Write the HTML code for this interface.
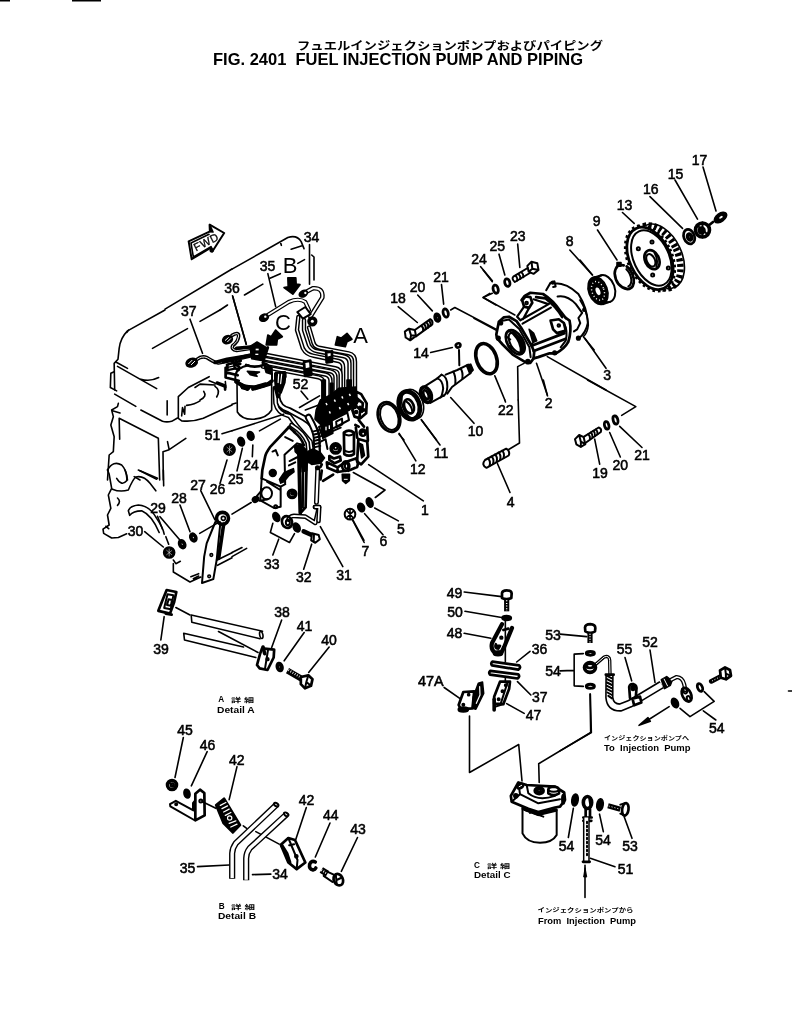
<!DOCTYPE html>
<html lang="ja"><head><meta charset="utf-8"><title>FIG. 2401 FUEL INJECTION PUMP AND PIPING</title>
<style>
html,body{margin:0;padding:0;background:#fff;}
body{width:792px;height:1021px;overflow:hidden;position:relative;font-family:"Liberation Sans","Noto Sans CJK JP",sans-serif;}
svg{position:absolute;left:0;top:0;display:block;will-change:transform;}
.d{fill:none;stroke:#000;stroke-width:1.6;stroke-linecap:round;stroke-linejoin:round}
.d *{vector-effect:non-scaling-stroke}
.d .m{stroke-width:2}
.d .k{stroke-width:2.7}
.d .kk{stroke-width:3.6}
.d .t{stroke-width:0.8}
.d .f{fill:#000}
.d .w{fill:#fff}
text{font-family:"Liberation Sans","Noto Sans CJK JP",sans-serif;fill:#000;stroke:none}
.n{font-size:14px;text-anchor:middle}
.n text{stroke:#000;stroke-width:.55px}
.L{font-size:22px;text-anchor:middle}
.s{font-size:8.2px;font-weight:bold}
.j{font-size:6px;font-weight:bold}
</style></head><body>
<svg width="792" height="1021" viewBox="0 0 792 1021">
<!-- 00_title.svg -->
<rect x="0" y="0" width="10" height="1.5" fill="#000"/>
<rect x="72" y="0" width="29" height="1.5" fill="#000"/>
<text x="297" y="50.3" font-size="11.6" font-weight="bold" textLength="306" lengthAdjust="spacingAndGlyphs">フュエルインジェクションポンプおよびパイピング</text>
<text x="213" y="64.8" font-size="16.2" font-weight="bold" textLength="370" lengthAdjust="spacingAndGlyphs" xml:space="preserve">FIG. 2401  FUEL INJECTION PUMP AND PIPING</text>
<!-- 01_labels.svg -->
<g class="n">
<text x="267.5" y="271">35</text><text x="232" y="292.5">36</text><text x="188.7" y="316">37</text><text x="212.5" y="440">51</text>
<text x="311.5" y="242">34</text><text x="300.5" y="388.7">52</text><text x="398" y="303">18</text><text x="417.5" y="292">20</text>
<text x="441" y="281.5">21</text><text x="479" y="264">24</text><text x="421" y="358">14</text><text x="475.5" y="436">10</text>
<text x="441" y="457.5">11</text><text x="417.7" y="474">12</text><text x="425" y="514.5">1</text><text x="401" y="534">5</text>
<text x="383.5" y="546">6</text><text x="365.5" y="555.5">7</text><text x="344" y="580">31</text><text x="303.7" y="582">32</text>
<text x="304.5" y="631">41</text><text x="329" y="644.5">40</text><text x="454.5" y="597.5">49</text><text x="455" y="616.5">50</text>
<text x="454.5" y="638">48</text><text x="251" y="469.5">24</text><text x="235.7" y="483.5">25</text><text x="217.5" y="494">26</text>
<text x="198" y="490">27</text><text x="179" y="502.5">28</text><text x="158" y="513">29</text><text x="135.5" y="535.7">30</text>
<text x="271.7" y="568.7">33</text><text x="161" y="653.5">39</text><text x="282" y="617">38</text>
<text x="185" y="735">45</text><text x="207.5" y="749.5">46</text><text x="236.7" y="764.5">42</text><text x="306.5" y="805">42</text>
<text x="330.7" y="820">44</text><text x="187.5" y="873">35</text><text x="280" y="878.7">34</text><text x="358" y="834.2">43</text>
<text x="553" y="639.5">53</text><text x="539.5" y="654">36</text><text x="553" y="675.7">54</text><text x="539.7" y="701.5">37</text>
<text x="533.5" y="720">47</text><text x="418" y="685.7" style="text-anchor:start" textLength="25.7" lengthAdjust="spacingAndGlyphs">47A</text><text x="624.5" y="654">55</text><text x="650" y="646.5">52</text>
<text x="716.7" y="732.5">54</text><text x="566.5" y="850.7">54</text><text x="603" y="844.5">54</text><text x="630" y="850.7">53</text>
<text x="625.5" y="873.7">51</text><text x="699.5" y="165">17</text><text x="675.5" y="179">15</text><text x="650.7" y="194">16</text>
<text x="624.5" y="210">13</text><text x="596.7" y="225.7">9</text><text x="569.7" y="245.7">8</text><text x="517.7" y="240.7">23</text>
<text x="497.2" y="250.7">25</text><text x="607.2" y="380">3</text><text x="548.7" y="408">2</text><text x="505.7" y="415">22</text>
<text x="510.7" y="506.5">4</text><text x="600" y="477.5">19</text><text x="620.2" y="469.5">20</text><text x="642" y="460">21</text>
</g>
<g class="L"><text x="290" y="273">B</text><text x="283" y="330">C</text><text x="360.5" y="342.5">A</text></g>
<!-- 10_block_a.svg -->
<g class="d" transform="translate(100,310) scale(0.166667)">
<path d="M390,0 L165,125 C140,150 120,185 115,230 L108,295 L85,320 L88,480"/>
<path d="M160,135 L172,120"/>
<path d="M315,230 L525,112 M600,68 L720,0"/>
<path d="M95,312 L165,350 M105,338 L340,472 M245,415 Q300,432 352,405"/>
<path d="M85,370 L65,380 L62,465 L100,485 M88,505 L215,578"/>
<path d="M110,560 L105,580 L70,600 L80,640 L65,690 L85,760 L80,850 L55,870 L45,1020"/>
<path d="M75,605 L120,618"/>
<path d="M245,600 L375,668 Q400,675 430,668 L465,648"/>
<path d="M403,545 L403,630"/>
<path d="M118,775 L115,650 L350,770 L358,1020"/>
<path d="M380,1020 L378,850 L415,838 L515,770 M405,790 L415,838"/>
<path d="M45,960 Q80,900 130,930 Q160,960 165,1020 M240,965 L340,1015 M205,1000 L240,1020"/>
<path d="M470,650 L470,520 L530,465 L655,400 M470,650 L490,665 Q560,672 620,650 L792,570"/>
<path d="M490,635 L495,585 L508,625 L510,578"/>
<path d="M520,572 Q570,565 600,545 M600,540 Q645,520 622,488"/>
<path d="M570,465 L600,445 L690,450 M655,425 L755,465 L752,430 M690,458 Q725,480 700,522"/>
</g>
<!-- 11_block_b.svg -->
<g class="d" transform="translate(100,470) scale(0.166667)">
<path d="M45,0 L55,25 L70,110 L50,150 L65,230 L45,270 L55,330 L18,355 L22,380 L70,408 L110,405 L160,383 M35,338 L52,352"/>
<path d="M150,0 Q165,45 160,65 Q130,100 100,50 M230,0 L345,50 M380,0 L382,95"/>
<path d="M75,115 Q120,135 170,120 Q195,60 215,42 Q260,30 300,80 L335,125"/>
<path d="M105,168 Q128,188 105,212"/>
<path d="M178,272 L170,245 Q180,215 230,210 Q300,215 340,290 Q380,350 385,385 M178,272 Q200,245 250,245 Q310,270 355,375"/>
<path d="M345,278 L375,355 M395,400 L412,445"/>
<path d="M360,280 L478,418 M480,210 L540,370 M605,125 L690,300 M268,370 L380,462"/>
<circle class="f" cx="415" cy="495" r="33"/><path d="M400,482 L430,508 M415,474 L415,516 M400,508 L430,484" style="stroke:#fff;stroke-width:.5"/>
<ellipse class="f" cx="493" cy="445" rx="20" ry="28" transform="rotate(-25 493 445)"/><ellipse class="w" cx="493" cy="445" rx="2.5" ry="5" transform="rotate(-25 493 445)" style="stroke:none"/>
<ellipse class="f" cx="560" cy="405" rx="20" ry="27" transform="rotate(-25 560 405)"/><ellipse class="w" cx="560" cy="405" rx="2.5" ry="5" transform="rotate(-25 560 405)" style="stroke:none"/>
<path d="M598,380 L720,310"/>
<circle class="kk" cx="735" cy="290" r="36"/><circle cx="740" cy="290" r="12"/>
<path class="m" d="M692,312 L640,440 L625,520 L612,678 L680,655 L700,540 L722,318"/>
<path class="kk" d="M742,325 L712,530"/>
<circle cx="668" cy="510" r="8"/><circle cx="655" cy="638" r="8"/>
<path d="M440,540 L455,562 L482,548 M440,562 L440,612 L540,672 L605,642 M545,640 L592,622 M560,652 L592,636"/>
<path d="M700,542 L792,496 M705,572 L792,527"/>
<path class="k" d="M400,720 L458,732 L445,792 L420,862 L350,845 L375,782 Z"/>
<path class="m" d="M405,745 L440,752 L425,835 L385,828 Z M412,775 L432,780 L425,815 L402,810 Z"/>
<path class="k" d="M395,862 L430,868"/>
<path d="M385,880 L365,1020 M455,825 L540,870"/>
</g>
<!-- 12_fwd.svg -->
<g class="d" transform="translate(130,215) scale(0.166667)">
<path d="M210,565 L612,324 M540,570 L585,540"/>
<path d="M360,625 L435,830 M615,485 L698,775"/>
<path class="m" d="M352,158 L480,98 L478,58 L565,108 L495,218 L488,195 L370,265 Z"/>
<path d="M366,168 L474,116 M366,168 L380,252 M380,252 L486,190"/>
<path class="f" d="M478,58 L498,102 L478,100 Z"/><circle class="f" cx="490" cy="212" r="9"/>
<path d="M400,868 Q430,843 462,856 Q500,882 530,888 L612,872 L722,846" style="stroke-width:3.6;"/><path d="M400,868 Q430,843 462,856 Q500,882 530,888 L612,872 L722,846" style="stroke:#fff;stroke-width:0.9;"/>
<path d="M612,722 Q652,698 652,726 Q650,760 616,784 Q606,808 640,813 L748,797" style="stroke-width:3.6;"/><path d="M612,722 Q652,698 652,726 Q650,760 616,784 Q606,808 640,813 L748,797" style="stroke:#fff;stroke-width:0.9;"/>
<path class="kk" d="M560,880 L730,838 M640,800 L740,790"/>
<ellipse class="f" cx="370" cy="886" rx="34" ry="25" transform="rotate(-20 370 886)"/><path d="M352,892 L372,872 M368,898 L388,878" style="stroke:#fff;stroke-width:1"/>
<ellipse class="f" cx="585" cy="748" rx="30" ry="23" transform="rotate(-20 585 748)"/><path d="M572,752 L590,736 M586,760 L604,742" style="stroke:#fff;stroke-width:1"/>
</g>
<text transform="translate(196,251.5) rotate(-27)" font-size="11" style="letter-spacing:.6px;stroke:#000;stroke-width:.3px">FWD</text>
<!-- 13_misc.svg -->
<g class="d">
<circle class="f" cx="229.5" cy="449.5" r="5.6"/><path d="M227,447.3 L232,451.7 M229.5,446 L229.5,453 M227,451.7 L232,447.3" style="stroke:#fff;stroke-width:.5"/>
<path d="M227,460 L220,483.5 M222,433.8 L232,430.8"/>
<path d="M788.5,691 L792,691"/>
</g>
<!-- 20_pipes_top.svg -->
<g class="d" transform="translate(232,230) scale(0.166667)">
<path d="M0,235 L335,45 Q390,28 415,70 L432,112 M290,70 L296,92 M355,115 L420,95 M395,200 L435,178"/>
<path d="M465,88 L465,325 M478,150 L492,162 L492,300"/>
<path d="M228,290 L290,262 M75,390 L185,325"/>
<path d="M215,262 L262,460 M5,400 L85,685"/>
<path class="f" d="M335,287 L383,287 L385,325 L408,328 L365,385 L312,345 L337,340 Z"/>
<path class="f" d="M262,600 L302,640 L272,655 L268,690 L205,690 L215,630 L235,640 Z"/>
<path class="f" d="M690,620 L720,655 L690,670 L680,700 L620,690 L632,640 L655,648 Z"/>
<path d="M425,382 L485,350 Q548,345 542,405 L470,520" style="stroke-width:4.6"/><path d="M425,382 L485,350 Q548,345 542,405 L470,520" style="stroke:#fff;stroke-width:2.0"/>
<path d="M212,512 L340,432 Q400,405 440,432 L462,480" style="stroke-width:4.2"/><path d="M212,512 L340,432 Q400,405 440,432 L462,480" style="stroke:#fff;stroke-width:1.8"/>
<ellipse class="f" cx="192" cy="526" rx="27" ry="20" transform="rotate(-25 192 526)"/><circle class="w" cx="200" cy="520" r="7" style="stroke:none"/>
<ellipse class="f" cx="428" cy="382" rx="26" ry="18" transform="rotate(-30 428 382)"/><circle class="w" cx="440" cy="378" r="7" style="stroke:none"/>
<path class="w m" d="M392,492 L440,462 L472,505 L425,532 Z"/>
<circle class="f" cx="482" cy="548" r="26"/><circle class="w" cx="482" cy="548" r="9" style="stroke:none"/>
<path d="M398,522 L390,600 L425,710 Q445,748 490,755 L640,786 Q667,792 667,825 L667,1020" style="stroke-width:4.4"/><path d="M398,522 L390,600 L425,710 Q445,748 490,755 L640,786 Q667,792 667,825 L667,1020" style="stroke:#fff;stroke-width:1.5"/>
<path d="M432,540 L432,600 L462,692 Q478,722 512,728 L665,756 Q705,762 705,800 L705,1020" style="stroke-width:4.4"/><path d="M432,540 L432,600 L462,692 Q478,722 512,728 L665,756 Q705,762 705,800 L705,1020" style="stroke:#fff;stroke-width:1.5"/>
<path d="M462,585 L490,680 Q500,705 530,708 L700,740 Q738,748 738,790 L738,1020" style="stroke-width:4.4"/><path d="M462,585 L490,680 Q500,705 530,708 L700,740 Q738,748 738,790 L738,1020" style="stroke:#fff;stroke-width:1.5"/>
<path class="w k" d="M565,735 L600,728 L600,790 L568,795 Z"/><path class="f" d="M568,765 L600,758 L600,790 L568,795 Z"/>
<path d="M200,748 L620,829 Q652,836 652,868 L652,1020" style="stroke-width:4.4"/><path d="M200,748 L620,829 Q652,836 652,868 L652,1020" style="stroke:#fff;stroke-width:1.5"/>
<path d="M195,772 L590,848 Q621,855 621,885 L621,1020" style="stroke-width:4.4"/><path d="M195,772 L590,848 Q621,855 621,885 L621,1020" style="stroke:#fff;stroke-width:1.5"/>
<path d="M190,796 L560,867 Q591,874 591,905 L591,1020" style="stroke-width:4.4"/><path d="M190,796 L560,867 Q591,874 591,905 L591,1020" style="stroke:#fff;stroke-width:1.5"/>
<path d="M185,820 L518,884 Q549,891 549,920 L549,1020" style="stroke-width:4.4"/><path d="M185,820 L518,884 Q549,891 549,920 L549,1020" style="stroke:#fff;stroke-width:1.5"/>
<path class="w k" d="M432,792 L470,784 L476,868 L438,876 Z"/><path class="f" d="M436,835 L474,827 L476,868 L438,876 Z"/>
</g>
<!-- 21_filter_pump.svg -->
<g class="d" transform="translate(232,310) scale(0.166667)">
<path class="f" d="M108,218 L150,192 L205,225 L188,305 L118,292 Z"/>
<rect class="w" x="142" y="232" width="18" height="10" style="stroke:none"/><rect class="w" x="140" y="262" width="18" height="8" style="stroke:none"/>
<path class="k" d="M200,240 L215,225 L190,300"/>
<path class="m" d="M22,395 Q20,350 100,332 M185,315 Q240,330 240,380 M20,395 L20,430 M240,380 L240,425"/>
<path class="f" d="M92,368 L165,372 L140,384 L150,398 L110,388 Z"/>
<path class="k" d="M85,330 Q135,350 190,330 M5,310 L45,345 M10,345 L40,360"/>
<path class="f" d="M195,340 L240,345 L238,385 L205,375 Z"/>
<path class="kk" d="M25,432 Q60,462 135,462 Q205,458 240,425"/>
<path class="m" d="M60,470 L95,478 M150,470 L200,455"/>
<path d="M30,440 L32,612 Q60,660 135,655 Q210,648 238,600 L238,430"/>
<path d="M0,565 L25,558"/>
<path class="w m" d="M262,375 L318,372 L322,400 L300,455 L268,455 L258,400 Z"/>
<path class="k" d="M280,385 L285,440 M300,385 L298,430"/>
<path d="M282,455 L272,520 Q278,585 345,602 L430,648 Q505,690 512,765 L515,860" style="stroke-width:6.2"/><path d="M282,455 L272,520 Q278,585 345,602 L430,648 Q505,690 512,765 L515,860" style="stroke:#fff;stroke-width:2.6"/>
<path d="M258,470 L262,560 Q275,622 345,636 L392,700 L470,790 L482,870" style="stroke-width:5.0"/><path d="M258,470 L262,560 Q275,622 345,636 L392,700 L470,790 L482,870" style="stroke:#fff;stroke-width:2.0"/>
<path class="kk" d="M262,470 L275,520"/>
<path d="M415,487 L455,535 M405,585 L525,515 M0,725 L310,625 M165,725 L290,655 M440,600 L520,570"/>
<path class="f" d="M505,600 L530,540 L600,505 L640,470 L745,462 L748,560 L705,600 L535,690 L498,655 Z"/>
<path class="f" d="M540,420 L560,420 L560,520 L540,530 Z M590,440 L606,440 L606,520 L590,520 Z M690,420 L715,420 L715,480 L690,480 Z"/>
<rect class="w" x="560" y="560" width="9" height="14" style="stroke:none" transform="rotate(-25 560 560)"/>
<rect class="w" x="610" y="540" width="9" height="14" style="stroke:none" transform="rotate(-25 610 540)"/>
<rect class="w" x="655" y="520" width="9" height="14" style="stroke:none" transform="rotate(-25 655 520)"/>
<rect class="w" x="700" y="505" width="9" height="14" style="stroke:none" transform="rotate(-25 700 505)"/>
<rect class="w" x="580" y="610" width="9" height="14" style="stroke:none" transform="rotate(-25 580 610)"/>
<rect class="w" x="640" y="585" width="9" height="14" style="stroke:none" transform="rotate(-25 640 585)"/>
<rect class="w" x="690" y="560" width="9" height="14" style="stroke:none" transform="rotate(-25 690 560)"/>
<path class="w m" d="M522,702 L692,615 L702,660 L538,748 Z"/>
<path class="m" d="M625,670 L660,652 L662,686 L628,703 Z"/>
<path class="f" d="M535,700 L600,668 L605,740 L545,770 Z"/>
<rect class="w" x="560" y="700" width="8" height="22" style="stroke:none"/><rect class="w" x="580" y="692" width="8" height="22" style="stroke:none"/>
<path class="w k" d="M745,490 L775,505 L808,560 L805,620 L770,650 L735,640 L722,600 L748,560 Z"/>
<path class="k" d="M750,530 L785,560 L780,610 M745,575 L770,600 L765,640"/>
<circle class="f" cx="745" cy="612" r="9"/><circle class="f" cx="768" cy="585" r="7"/><circle class="f" cx="790" cy="600" r="7"/><circle class="f" cx="760" cy="545" r="6"/><circle class="f" cx="738" cy="585" r="6"/>
<path class="k" d="M760,660 L792,700 M740,690 L760,700"/>
<ellipse class="f" cx="112" cy="755" rx="19" ry="27" transform="rotate(-20 112 755)"/>
<ellipse class="f" cx="55" cy="790" rx="19" ry="27" transform="rotate(-20 55 790)"/>
</g>
<!-- 22_pump_low.svg -->
<g class="d" transform="translate(232,420) scale(0.166667)">
<path class="k" d="M368,30 L342,42 L228,163 Q205,195 200,215 L182,300 L178,350"/>
<path class="m" d="M178,350 L292,400 L292,520 L252,528 L170,482 Z M292,400 L320,385 M210,370 L290,420"/>
<ellipse class="m" cx="208" cy="440" rx="32" ry="36"/><path class="m" d="M185,415 L150,455 M215,475 L165,485"/>
<ellipse class="f" cx="142" cy="476" rx="20" ry="16" transform="rotate(-30 142 476)"/>
<circle class="m" cx="262" cy="520" r="9"/>
<path d="M115,495 L0,565"/>
<path d="M497,522 L522,522 L500,618 L440,580 L372,575 Q345,578 338,598" style="stroke-width:4.6"/><path d="M497,522 L522,522 L500,618 L440,580 L372,575 Q345,578 338,598" style="stroke:#fff;stroke-width:1.6"/>
<ellipse class="k" cx="330" cy="612" rx="30" ry="36" transform="rotate(-20 330 612)"/><ellipse class="m" cx="335" cy="615" rx="12" ry="16"/>
<ellipse class="f" cx="266" cy="582" rx="19" ry="28" transform="rotate(-25 266 582)"/>
<ellipse class="f" cx="388" cy="645" rx="19" ry="28" transform="rotate(-25 388 645)"/>
<path d="M245,620 L230,675 L345,735 L375,682 M280,715 L245,810"/>
<path d="M430,668 L478,690" style="stroke-width:4.6"/><path class="w m" d="M480,680 L520,690 L527,715 L500,737 L475,722 Z"/><path class="m" d="M492,684 L490,730"/>
<path d="M478,745 L430,895 M530,640 L665,880"/>
<circle class="m" cx="708" cy="565" r="32"/><path d="M690,545 L725,585 M708,535 L708,595 M688,585 L728,548"/>
<ellipse class="f" cx="775" cy="525" rx="19" ry="26" transform="rotate(-25 775 525)"/>
<path d="M725,600 L792,722"/>
<path d="M0,795 L60,765 M0,820 L88,770"/>
<path d="M125,150 L122,220 M62,170 L30,305"/>
</g>
<g class="d" transform="translate(270,420) scale(0.126263)">
<path class="m" d="M115,275 L215,185 L270,200 M115,275 L120,500 M155,325 L215,295 M150,360 L200,335 M120,135 L180,165 M20,250 L45,238 L62,280"/>
<circle class="f" cx="22" cy="420" r="27"/>
<path class="f" d="M75,470 L110,420 L150,400 L185,385 L190,410 L150,440 L110,490 L85,500 Z"/>
<circle cx="175" cy="585" r="30" style="stroke-width:3.4"/><circle class="f" cx="178" cy="580" r="13"/>
<path class="f" d="M195,205 L245,195 L300,250 L300,340 L250,345 L240,290 L200,250 Z"/>
<path d="M228,215 L240,735" style="stroke-width:3.8"/>
<path class="k" d="M262,350 L258,690 M290,350 L282,690 M240,738 L282,692"/>
<path class="f" d="M250,345 L292,340 L290,400 L255,410 Z"/>
<path d="M305,-20 Q362,80 368,140 L372,255" style="stroke-width:7.4"/><path d="M305,-20 Q362,80 368,140 L372,255" style="stroke:#fff;stroke-width:3.4"/>
<path class="m" d="M345,90 L385,80 M350,115 L390,105 M352,140 L392,130 M354,165 L394,155 M356,190 L396,180 M358,215 L398,205"/>
<path d="M170,40 Q265,100 298,180 L306,260" style="stroke-width:4.8"/><path d="M170,40 Q265,100 298,180 L306,260" style="stroke:#fff;stroke-width:1.6"/>
<path class="k" d="M190,95 Q250,140 268,200 M150,55 L200,100"/>
<path class="f" d="M300,250 L340,230 L400,260 L432,300 L400,342 L330,352 L290,322 Z"/>
<path d="M378,392 L368,652" style="stroke-width:5"/><path d="M378,392 L368,652" style="stroke:#fff;stroke-width:2.2"/>
<circle class="f" cx="376" cy="378" r="14"/><path class="k" d="M400,372 L410,352 M410,400 L400,470"/>
<path d="M358,690 L390,690 L384,800" style="stroke-width:4.6"/><path d="M358,690 L390,690 L384,800" style="stroke:#fff;stroke-width:1.6"/>
<path class="m" d="M400,130 L560,60 M405,170 L440,152 M440,152 L455,230"/>
<circle cx="520" cy="225" r="35" style="stroke-width:3.8"/><circle class="m" cx="520" cy="220" r="14"/>
<path class="k" d="M470,285 L505,305 L555,290 L560,320 L510,342 L470,315 Z"/>
<path class="w k" d="M585,100 L588,270 Q625,296 665,270 L665,100 Q625,68 585,100 Z"/><path class="m" d="M585,108 Q625,138 665,108 M588,240 Q625,266 665,240"/>
<path class="k" d="M450,335 L535,375 L595,335 M535,375 L535,412 L455,378 L450,335 M535,412 L600,402"/>
<ellipse class="k" cx="600" cy="365" rx="28" ry="38"/><ellipse class="m" cx="606" cy="365" rx="13" ry="20"/>
<path class="k" d="M610,328 L680,305 M620,402 L690,372 M680,305 Q705,335 690,372"/>
<path class="f" d="M572,430 L630,430 L628,480 L600,502 L575,480 Z"/><path d="M588,470 L612,470" style="stroke:#fff;stroke-width:1"/>
<circle class="f" cx="735" cy="100" r="28"/><circle class="w" cx="738" cy="108" r="7" style="stroke:none"/>
<path class="k" d="M700,150 L770,170 L778,290 L722,352 L690,330 Z"/><path class="f" d="M708,185 L732,195 L748,280 L726,300 Z"/>
<path class="k" d="M680,60 L690,140 M770,60 L775,165"/>
<path class="k" d="M420,482 L500,432"/>
</g>
<!-- 23_filter_extra.svg -->
<g class="d" transform="translate(215,330) scale(0.10101)">
<path class="kk" d="M0,322 L120,290 L330,255"/>
<path class="k" d="M105,375 L105,470 L235,502 M110,420 L225,448 M105,375 L250,335 M120,345 L255,305"/>
<path class="f" d="M115,345 L190,325 L195,385 L120,400 Z"/>
<path d="M140,355 L175,347 M140,378 L178,370" style="stroke:#fff;stroke-width:1"/>
<path class="kk" d="M215,515 L330,578 M375,585 L545,535"/>
<path class="k" d="M260,560 L320,590 M400,560 L500,530"/>
<path class="f" d="M592,432 L700,425 L692,520 L655,622 L602,600 L592,500 Z"/>
<path d="M630,440 L625,520 M660,440 L650,530" style="stroke:#fff;stroke-width:1.2"/>
<path class="k" d="M20,520 L100,550 L100,590"/>
</g>
<!-- 30_shaft.svg -->
<g class="d" transform="translate(364,270) scale(0.166667)">
<path d="M465,88 L478,205 M322,150 L410,245 M205,220 L320,315 M400,495 L530,465 M520,765 L660,920 M345,900 L435,1020 M210,985 L240,1020"/>
<ellipse class="k" style="stroke-width:2.8" cx="490" cy="258" rx="15" ry="25" transform="rotate(-15 490 258)"/>
<ellipse class="k" style="stroke-width:2.8" cx="440" cy="286" rx="15" ry="23" transform="rotate(-15 440 286)"/><ellipse class="m" cx="440" cy="286" rx="7" ry="12" transform="rotate(-15 440 286)"/>
<path class="m" d="M245,370 L270,352 L305,360 L312,395 L277,422 L250,405 Z M270,352 L282,392 L277,422 M282,392 L312,395"/>
<path class="m" d="M305,360 L398,295 Q415,305 410,326 L312,398"/>
<path class="m" d="M345,335 Q358,345 355,365 M360,325 Q373,335 370,355 M375,315 Q388,325 385,345 M390,305 Q402,315 399,335"/>
<path d="M520,240 L545,225 L792,355"/>
<path d="M715,0 L770,70 M770,140 L715,165 L792,210"/>
<ellipse class="k" cx="565" cy="452" rx="14" ry="12" transform="rotate(-30 565 452)"/><path class="m" d="M570,480 L572,572"/>
<ellipse class="kk" cx="372" cy="748" rx="30" ry="48" transform="rotate(-22 372 748)"/><ellipse class="k" cx="372" cy="748" rx="14" ry="28" transform="rotate(-22 372 748)"/>
<path class="m" d="M352,706 L440,650 L465,628 M398,797 L480,752"/>
<path class="m" d="M465,628 Q502,640 500,700 Q498,740 478,755 M440,650 Q472,660 475,710 Q470,750 460,765"/>
<path class="m" d="M490,628 L560,600 L625,568 M500,742 L528,702 L640,618"/>
<path class="m" d="M535,610 Q552,635 548,684 M580,592 Q595,612 590,652"/>
<path class="f" d="M615,572 L640,565 L655,600 L635,622 Z"/>
<ellipse cx="292" cy="805" rx="62" ry="92" transform="rotate(-20 292 805)"/>
<ellipse cx="272" cy="812" rx="60" ry="86" transform="rotate(-20 272 812)" style="stroke-width:4.6"/>
<ellipse class="k" cx="270" cy="818" rx="28" ry="44" transform="rotate(-20 270 818)"/>
<path class="m" d="M255,790 Q285,810 290,850"/>
<ellipse class="k" cx="150" cy="882" rx="64" ry="92" transform="rotate(-20 150 882)"/>
<ellipse class="m" cx="152" cy="882" rx="52" ry="80" transform="rotate(-20 152 882)"/>
</g>
<!-- 31_housing.svg -->
<g class="d" transform="translate(474,230) scale(0.166667)">
<path d="M262,85 L275,225 M150,145 L185,270 M40,220 L110,305 M575,120 L710,270"/>
<ellipse class="k" style="stroke-width:2.8" cx="130" cy="355" rx="15" ry="25" transform="rotate(-15 130 355)"/>
<ellipse class="k" style="stroke-width:2.8" cx="200" cy="316" rx="15" ry="23" transform="rotate(-15 200 316)"/>
<path d="M95,380 L55,405 L245,510 M0,530 L140,605"/>
<path class="m" d="M320,215 L345,190 L380,200 L387,240 L357,263 L328,250 Z M345,190 L350,232 L328,250 M350,232 L387,240"/>
<path class="m" d="M322,228 L238,278 Q222,292 245,312 L335,258"/>
<path class="m" d="M250,275 Q262,285 260,303 M268,265 Q280,275 278,293 M286,255 Q298,265 296,283"/>
<!-- o-ring 22 -->
<ellipse class="kk" cx="75" cy="772" rx="60" ry="94" transform="rotate(-20 75 772)"/>
<path d="M125,875 L185,1020 M300,800 L262,820 L265,1020 M375,800 L440,990 M440,760 L792,960 M665,650 L792,830"/>
</g>
<!-- 31b_housing_body.svg -->
<g class="d" transform="translate(490,270) scale(0.126263)">
<!-- front flange -->
<path class="w k" d="M70,410 L110,375 L150,370 L210,405 L245,455 L330,600 L350,650 L345,700 L320,735 L280,730 L180,670 L100,590 L55,540 L50,510 Z"/>
<path class="m" d="M100,402 L150,392 L232,468 L312,612 L322,690"/>
<ellipse class="k" cx="200" cy="572" rx="62" ry="105" transform="rotate(-30 200 572)"/>
<ellipse class="m" cx="205" cy="575" rx="44" ry="86" transform="rotate(-30 205 575)"/>
<path d="M185,498 Q258,572 250,655" style="stroke-width:3.8"/>
<path class="m" d="M150,480 L175,500 M135,530 L160,550 M150,600 L175,620"/>
<circle class="f" cx="85" cy="420" r="14"/><circle class="f" cx="66" cy="540" r="14"/><circle class="f" cx="300" cy="726" r="16"/><circle class="f" cx="332" cy="592" r="10"/>
<!-- body -->
<path class="k" d="M250,238 L275,205 L320,180 L420,190 Q500,240 560,330 L600,380"/>
<path class="w k" d="M255,240 L280,210 L320,215 L335,260 L310,300 L270,290 Z"/><circle class="m" cx="290" cy="262" r="10"/>
<path class="k" d="M365,215 L440,225 Q520,285 572,372"/>
<path class="m" style="stroke-width:2.2" d="M270,290 L215,370 M310,300 L262,388 M240,398 L468,268 M258,425 L482,298 M345,232 L400,250 L455,268 M215,370 L240,398"/>
<path class="k" d="M330,600 L590,500 M346,642 L600,545 M345,700 L382,690 L472,660 L522,660"/>
<path class="w k" d="M480,400 L545,390 L585,420 L600,480 L530,500 L500,470 Z"/><circle class="m" cx="545" cy="440" r="10"/>
<path class="k" d="M600,380 L630,400 Q648,480 620,570 Q590,625 520,662"/>
<path class="m" d="M585,420 Q618,480 600,560 L560,612"/>
<circle class="f" cx="512" cy="656" r="14"/><path class="f" d="M310,470 L345,500 L370,560 L340,575 Z"/>
<!-- gasket 3 -->
<path class="m" d="M445,160 L480,100 L510,90 L520,130 L500,135 M520,105 Q610,105 700,190 Q770,300 775,420 Q760,500 700,545"/>
<path class="m" d="M535,210 Q610,195 680,270 L730,340 L700,380 L715,420 L690,470 L665,486"/>
<circle class="f" cx="497" cy="100" r="10"/><circle class="f" cx="745" cy="316" r="10"/><circle class="f" cx="700" cy="540" r="14"/>
</g>
<!-- 32_gear.svg -->
<g class="d" transform="translate(580,180) scale(0.166667)">
<path d="M420,100 L615,290 M255,195 L325,260 M105,300 L222,480 M570,0 L705,235 M0,480 L75,570"/>
<path d="M0,720 Q45,790 50,870 Q45,920 20,940 L85,1020"/>
<!-- gear -->
<ellipse cx="482" cy="458" rx="128" ry="205" transform="rotate(-25 482 458)" style="stroke-width:1.6"/>
<ellipse cx="462" cy="462" rx="124" ry="201" transform="rotate(-25 462 462)" style="stroke-width:6.5;stroke-dasharray:3 2.4;stroke-linecap:butt"/>
<ellipse class="w" cx="420" cy="470" rx="130" ry="206" transform="rotate(-25 420 470)" style="stroke-width:3.4;stroke-dasharray:2.6 2.8;stroke-linecap:butt"/>
<ellipse cx="420" cy="470" rx="122" ry="198" transform="rotate(-25 420 470)" style="stroke-width:2.8"/>
<ellipse class="w m" cx="428" cy="468" rx="106" ry="176" transform="rotate(-25 428 468)"/>
<ellipse class="k" cx="432" cy="478" rx="42" ry="60" transform="rotate(-25 432 478)"/>
<ellipse class="m" cx="425" cy="482" rx="24" ry="40" transform="rotate(-25 425 482)"/>
<path class="m" d="M448,440 Q470,470 458,520"/>
<circle class="m" cx="432" cy="372" r="9"/><circle class="m" cx="350" cy="412" r="9"/><circle class="m" cx="530" cy="528" r="9"/><circle class="m" cx="436" cy="570" r="9"/>
<!-- snap ring 9 -->
<path class="k" d="M262,512 Q215,500 208,560 Q215,640 285,655 Q330,650 322,590 Q310,540 280,518"/>
<path class="m" d="M278,535 Q305,560 308,600 Q308,630 290,638"/>
<rect class="f" x="222" y="495" width="24" height="22"/>
<!-- bearing 8 -->
<ellipse class="m" cx="152" cy="652" rx="56" ry="84" transform="rotate(-20 152 652)"/>
<path class="m" d="M85,585 L130,572 M140,745 L182,730"/>
<ellipse class="f" cx="108" cy="664" rx="56" ry="86" transform="rotate(-20 108 664)"/>
<ellipse class="w" cx="108" cy="668" rx="13" ry="24" transform="rotate(-20 108 668)" style="stroke:none"/>
<ellipse cx="108" cy="665" rx="36" ry="58" transform="rotate(-20 108 665)" style="stroke:#fff;stroke-width:1.4;stroke-dasharray:1 2.4;stroke-linecap:butt"/>
<!-- 16, 15, 17 -->
<ellipse class="k" cx="655" cy="340" rx="32" ry="45" transform="rotate(-20 655 340)"/><ellipse class="kk" cx="658" cy="342" rx="12" ry="18" transform="rotate(-20 658 342)"/>
<circle class="kk" cx="735" cy="300" r="42"/><circle class="f" cx="730" cy="303" r="20"/><path class="m" d="M700,270 L770,330 M735,255 L735,345"/>
</g>
<g class="d">
<ellipse class="f" cx="720.5" cy="217.5" rx="7" ry="4" transform="rotate(-35 720.5 217.5)"/><ellipse class="w" cx="721" cy="217.3" rx="2" ry="1" transform="rotate(-35 721 217.3)" style="stroke:none"/>
<path class="k" d="M708,226 L713,222"/>
<path d="M703,167 L716,211"/>
</g>
<!-- 33_bolts19.svg -->
<g class="d" transform="translate(540,380) scale(0.166667)">
<path d="M285,0 L575,160 L490,212 M328,355 L358,505 M418,315 L482,462 M478,278 L612,405 M20,0 L45,95"/>
<ellipse class="k" style="stroke-width:2.8" cx="453" cy="240" rx="14" ry="25" transform="rotate(-15 453 240)"/>
<ellipse class="k" style="stroke-width:2.8" cx="400" cy="272" rx="13" ry="23" transform="rotate(-15 400 272)"/>
<path class="m" d="M210,355 L235,330 L262,343 L272,385 L245,402 L218,386 Z M235,330 L245,370 L245,402 M245,370 L272,385"/>
<path class="m" d="M262,341 L352,285 Q372,292 365,312 L272,378"/>
<path class="m" d="M290,325 Q302,335 300,355 M305,315 Q317,325 315,345 M320,305 Q332,315 330,335 M335,297 Q347,307 345,325"/>
</g>
<g class="d">
<path d="M518.2,400 L519.5,443 L508.7,449.5 M497.5,463.7 L510,492.5 M504.8,400 L505.5,402"/>
<path class="m" d="M485,460 L506.2,448.7 Q510.5,451 508.7,455.5 L486.5,467.8 Q481,465 485,460 Z"/>
<path class="m" d="M488,458.5 Q491,461 489.5,466 M491.5,456.5 Q494.5,459 493,464 M495,454.5 Q498,457 496.5,462 M498.5,452.5 Q501.5,455 500,460 M502,450.7 Q505,453 503.5,458"/>
</g>
<!-- 34_pump_right.svg -->
<g class="d" transform="translate(330,400) scale(0.166667)">
<path d="M415,200 L515,365 M548,118 L660,270 M232,388 L560,605 M140,435 L330,540 L272,585 M268,648 L410,725 M208,682 L318,808 M135,720 L205,855"/>
<ellipse class="f" cx="238" cy="615" rx="19" ry="29" transform="rotate(-20 238 615)"/>
</g>
<!-- 40_detail_a.svg -->
<g class="d">
<path d="M262.5,631.2 L191.2,615 L191.8,622.3 L260,638.7"/>
<ellipse cx="261.3" cy="635" rx="1.6" ry="3.6" transform="rotate(-12 261.3 635)"/>
<path d="M243.5,647 L183.7,633.2 L184.5,640 L255.8,657.5"/>
<path d="M218.5,631.5 L258,652.5"/>
</g>
<g class="d" transform="translate(210,570) scale(0.166667)">
<path class="k" d="M312,470 L385,478 L382,525 L345,600 L298,590 L282,570 L300,505 Z"/>
<path class="m" d="M348,480 L330,592"/><circle class="m" cx="345" cy="535" r="7"/>
<path class="kk" d="M318,462 L328,502"/>
<ellipse class="k" style="stroke-width:2.8" cx="418" cy="582" rx="16" ry="24" transform="rotate(-15 418 582)"/><ellipse class="m" cx="418" cy="582" rx="7" ry="12" transform="rotate(-15 418 582)"/>
<path d="M465,604 L548,652" style="stroke-width:6.2;stroke-linecap:butt"/><path d="M470,600 L545,645" style="stroke:#fff;stroke-width:2.2;stroke-dasharray:.8 1.7;stroke-linecap:butt"/>
<path class="w k" d="M545,642 L590,632 L615,655 L606,695 L570,710 L545,685 Z"/><path class="m" d="M590,632 L578,672 L570,710 M578,672 L606,695"/>
<path d="M430,300 L370,465 M565,375 L445,545 M715,462 L592,615"/>
</g>
<text class="s" x="218.3" y="701.7" font-size="8">A</text><text class="j" x="231" y="701.7" font-size="6.5" textLength="23" lengthAdjust="spacingAndGlyphs">詳 細</text>
<text class="s" x="217" y="712.5" textLength="37.7" lengthAdjust="spacingAndGlyphs">Detail A</text>
<!-- 41_detail_b.svg -->
<g class="d" transform="translate(160,750) scale(0.166667)">
<path d="M140,-75 L90,165 M283,10 L188,215 M462,100 L415,298 M225,700 L415,690 M555,748 L665,745 M575,490 L715,565 M255,310 L335,350 M500,455 L520,470"/>
<circle class="kk" cx="72" cy="210" r="27"/><circle class="m" cx="74" cy="210" r="10"/><path class="m" d="M55,195 L90,225"/>
<ellipse class="k" style="stroke-width:2.8" cx="162" cy="262" rx="14" ry="23" transform="rotate(-15 162 262)"/><ellipse class="m" cx="162" cy="262" rx="6" ry="11" transform="rotate(-15 162 262)"/>
<path class="k" d="M212,262 L240,238 L266,258 L268,392 L212,422 Z"/><path class="m" d="M60,325 L95,305 L200,362 M60,325 L62,338 L205,420 M198,318 L198,362 M198,318 L212,300"/>
<circle class="m" cx="245" cy="306" r="9"/><circle class="m" cx="97" cy="325" r="6"/>
<path class="f" d="M335,330 L385,290 L482,450 L437,497 L380,440 Z" style="stroke-width:2"/>
<path d="M362,332 L395,315 M372,352 L405,335 M382,372 L415,355 M392,392 L425,375 M415,440 L455,425 M425,462 L462,445" style="stroke:#fff;stroke-width:1.3"/>
<circle cx="418" cy="408" r="13" style="stroke:#fff;stroke-width:1.2"/>
<path d="M697,330 L455,560 Q434,590 433,620 L433,772" style="stroke-width:6.2;stroke-linecap:butt"/><path d="M699,328 L455,560 Q434,590 433,620 L433,768" style="stroke:#fff;stroke-width:3.4;stroke-linecap:butt"/>
<path d="M757,388 L538,590 Q518,615 517,650 L517,782" style="stroke-width:6.2;stroke-linecap:butt"/><path d="M759,386 L538,590 Q518,615 517,650 L517,778" style="stroke:#fff;stroke-width:3.4;stroke-linecap:butt"/>
<ellipse class="m" cx="697" cy="328" rx="15" ry="9" transform="rotate(35 697 328)"/><ellipse class="m" cx="757" cy="386" rx="15" ry="9" transform="rotate(35 757 386)"/>
</g>
<g class="d" transform="translate(270,780) scale(0.166667)">
<path d="M218,165 L155,355 M360,258 L272,462 M525,345 L428,548"/>
<path class="k" d="M65,388 L110,348 L150,360 L212,495 L160,535 L110,495 Z"/><path class="kk" d="M70,392 L100,440 L118,495"/><path class="m" d="M115,392 L145,385 M110,348 L165,480 L160,535"/><circle class="m" cx="158" cy="458" r="8"/>
<path class="kk" d="M272,492 Q250,480 238,505 Q232,535 258,540 Q270,538 275,528"/>
<path d="M308,540 L345,563" style="stroke-width:6.4;stroke-linecap:butt"/><path d="M308,540 L345,563" style="stroke:#fff;stroke-width:2.4;stroke-dasharray:.8 1.6;stroke-linecap:butt"/><path class="m" d="M340,548 L392,572 M322,575 L375,612"/>
<ellipse class="w k" cx="410" cy="598" rx="27" ry="36" transform="rotate(-25 410 598)"/><path class="m" d="M395,570 L400,625 M400,600 L432,585"/>
</g>
<text class="s" x="218.7" y="908.7" font-size="8">B</text><text class="j" x="231" y="908.7" font-size="6.5" textLength="24" lengthAdjust="spacingAndGlyphs">詳 細</text>
<text class="s" x="218" y="919" textLength="38" lengthAdjust="spacingAndGlyphs">Detail B</text>
<!-- 50_detail_c_top.svg -->
<g class="d" transform="translate(430,580) scale(0.166667)">
<path d="M205,72 L430,100 M210,188 L430,225 M205,320 L365,350 M600,428 L520,492 M605,690 L525,610 M565,800 L460,742 M85,645 L185,715"/>
<path d="M452,245 L452,490 M452,590 L452,612"/>
<path class="w k" d="M432,78 Q435,62 460,62 Q488,62 490,80 L488,108 Q460,122 432,108 Z"/>
<path d="M460,118 L460,188" style="stroke-width:5.2;stroke-linecap:butt"/><path d="M460,122 L460,186" style="stroke:#fff;stroke-width:1.4;stroke-dasharray:1 1.6;stroke-linecap:butt"/>
<ellipse class="kk" cx="460" cy="228" rx="22" ry="8"/>
<path d="M432,265 L372,378 Q362,420 395,440 L430,432 L445,402 L492,288" style="stroke-width:4.2"/>
<path class="k" d="M440,300 L470,292 M395,385 Q385,410 410,412 L420,395 L405,395"/><circle class="m" cx="428" cy="346" r="7"/>
<ellipse class="k" cx="408" cy="440" rx="24" ry="11"/>
<path class="k" d="M375,490 L535,512 Q548,525 530,538 L372,512 Q362,500 375,490 Z"/>
<path class="k" d="M362,545 L530,566 Q542,580 525,591 L360,568 Q350,556 362,545 Z"/>
<path class="k" d="M420,610 L480,610 L475,652 L440,745 L385,742 L385,700 Z"/><path class="kk" d="M385,715 L385,780"/><path class="m" d="M385,762 L440,745 M465,615 L425,740"/>
<circle class="m" cx="455" cy="632" r="6"/><circle class="m" cx="435" cy="668" r="6"/><circle class="m" cx="412" cy="716" r="6"/>
<path class="f" d="M290,620 L315,612 L322,680 L275,775 L255,770 L260,700 Z"/><path d="M298,640 L300,690 L278,740" style="stroke:#fff;stroke-width:1.2"/>
<path class="k" d="M200,672 L265,668 L262,700 L255,770 L185,775 L172,750 Z"/><circle class="m" cx="232" cy="688" r="5"/><circle class="f" cx="200" cy="748" r="7"/>
<ellipse class="k" cx="200" cy="777" rx="27" ry="11"/>
</g>
<g class="d">
<path d="M469.5,716 L469.5,772.5 L518.7,744.5 L522,781 M590,694 L590.7,732.5 L538.7,763.7 L539.2,782.5"/>
</g>
<!-- 51_detail_c_right.svg -->
<g class="d" transform="translate(560,600) scale(0.166667)">
<path d="M0,205 L160,220 M140,322 L85,325 L85,515 L140,518 M0,425 L85,422 M390,345 L430,485 M540,300 L570,495 M182,565 L188,795 L0,905"/>
<path class="w k" d="M150,165 Q152,145 182,145 Q212,147 212,168 L210,188 Q182,205 152,188 Z"/>
<path d="M180,198 L180,258" style="stroke-width:5.2;stroke-linecap:butt"/><path d="M180,202 L180,256" style="stroke:#fff;stroke-width:1.4;stroke-dasharray:1 1.6;stroke-linecap:butt"/>
<ellipse class="k" style="stroke-width:3" cx="182" cy="320" rx="24" ry="11"/><ellipse class="k" style="stroke-width:3" cx="182" cy="518" rx="24" ry="12"/>
<path d="M215,385 L265,342 Q296,330 298,362 L300,448" style="stroke-width:3.4;"/><path d="M215,385 L265,342 Q296,330 298,362 L300,448" style="stroke:#fff;stroke-width:1.0;"/>
<ellipse class="kk" cx="180" cy="405" rx="33" ry="29"/><ellipse class="k" cx="180" cy="395" rx="22" ry="13"/>
<path d="M297,448 L296,585 Q302,646 362,645 L420,622 L610,508" style="stroke-width:8.4;stroke-linecap:butt"/><path d="M297,448 L296,585 Q302,646 362,645 L420,622 L610,508" style="stroke:#fff;stroke-width:5.2;stroke-linecap:butt"/>
<path d="M282,455 L312,470 M282,475 L312,490 M282,495 L312,510 M282,515 L312,530 M282,535 L312,550 M285,555 L312,570 M290,575 L312,590" class="m"/>
<path class="k" d="M275,448 L322,448"/>
<path class="w k" d="M435,592 L480,580 L488,615 L445,632 Z"/>
<path class="k" d="M420,588 L415,522 Q420,500 442,505 Q464,512 458,542 L455,582"/><ellipse class="f" cx="438" cy="528" rx="12" ry="14"/>
<path class="f" d="M608,478 L640,460 L672,485 L662,512 L627,532 Z"/><path d="M625,475 L645,515" style="stroke:#fff;stroke-width:1"/>
<path d="M668,478 L700,462 Q735,465 745,505 L752,540" style="stroke-width:4.2;"/><path d="M668,478 L700,462 Q735,465 745,505 L752,540" style="stroke:#fff;stroke-width:1.6;"/>
<ellipse class="k" cx="760" cy="568" rx="26" ry="44" transform="rotate(-25 760 568)"/><ellipse class="m" cx="750" cy="545" rx="12" ry="16" transform="rotate(-25 750 545)"/><ellipse class="m" cx="772" cy="592" rx="10" ry="16" transform="rotate(-25 772 592)"/>
<ellipse class="f" cx="690" cy="618" rx="19" ry="30" transform="rotate(-25 690 618)"/>
<path d="M655,640 L500,738"/><path class="f" d="M474,752 L528,706 L542,728 Z"/>
</g>
<text class="j" x="604" y="739.5" font-size="6.6" textLength="85" lengthAdjust="spacingAndGlyphs">インジェクションポンプへ</text>
<text class="s" x="604" y="750.8" textLength="86.5" lengthAdjust="spacingAndGlyphs" xml:space="preserve">To  Injection  Pump</text>
<g class="d" transform="translate(650,620) scale(0.166667)">
<path d="M325,430 L385,488 L240,580 L180,530 M320,545 L395,600"/>
<ellipse class="k" style="stroke-width:2.8" cx="300" cy="405" rx="14" ry="24" transform="rotate(-25 300 405)"/>
<path d="M368,368 L425,338" style="stroke-width:4.8"/><path d="M372,366 L422,340" style="stroke:#fff;stroke-width:1;stroke-dasharray:1 1.8;stroke-linecap:butt"/>
<path class="w k" d="M420,302 L450,285 L480,300 L486,335 L456,356 L425,346 Z"/><path class="m" d="M450,285 L455,322 L456,356 M455,322 L486,335"/>
</g>
<!-- 52_filter_c.svg -->
<g class="d" transform="translate(500,760) scale(0.166667)">
<path d="M440,290 L410,465 M597,325 L620,430 M745,340 L792,470 M542,590 L690,640 M510,632 L510,825"/>
<path class="f" d="M510,648 L502,702 L518,702 Z" style="stroke-width:1"/>
<path class="m" d="M135,285 L135,440 Q160,495 240,497 Q315,495 340,450 L340,300"/>
<path class="w k" d="M65,215 L110,135 L160,150 L330,160 L385,195 L390,240 L360,280 L330,285 L230,312 L170,292 L70,250 Z"/>
<path class="kk" d="M140,292 L230,326 L335,300"/>
<path class="m" d="M110,135 L120,205 L230,260 L360,235 M120,205 L70,250 M160,150 L170,200 Q230,250 330,215 M180,300 L180,318 M150,300 L260,340"/>
<ellipse class="kk" cx="235" cy="185" rx="24" ry="17"/><ellipse class="m" cx="235" cy="182" rx="10" ry="7"/>
<path class="w k" d="M290,178 Q292,160 322,160 Q352,162 354,180 L354,200 Q322,222 290,200 Z"/><path class="m" d="M290,182 Q322,200 354,182"/>
<ellipse class="f" cx="122" cy="158" rx="22" ry="14" transform="rotate(-30 122 158)"/><circle class="f" cx="95" cy="215" r="12"/><ellipse class="f" cx="380" cy="235" rx="9" ry="28"/>
<path d="M115,160 L130,152" style="stroke:#fff;stroke-width:1"/>
<ellipse class="f" cx="450" cy="240" rx="19" ry="36" transform="rotate(8 450 240)"/><ellipse class="f" cx="600" cy="268" rx="19" ry="36" transform="rotate(8 600 268)"/>
<ellipse class="kk" cx="525" cy="255" rx="25" ry="36"/><path class="k" d="M538,235 L545,275"/>
<path class="k" d="M514,295 L514,345 M540,295 L540,345 M500,345 L550,345 M500,365 L548,365"/>
<path d="M518,345 L518,612" style="stroke-width:6.8;stroke-linecap:butt"/><path d="M518,345 L518,612" style="stroke:#fff;stroke-width:3.8;stroke-linecap:butt"/>
<path class="k" d="M498,611 L538,611"/>
<path class="m" d="M522,370 L522,580" style="stroke-dasharray:1.5 2.5"/>
<path d="M648,275 L722,296" style="stroke-width:5.2;stroke-linecap:butt"/><path d="M652,276 L720,295" style="stroke:#fff;stroke-width:1;stroke-dasharray:1 2;stroke-linecap:butt"/>
<ellipse class="w k" cx="752" cy="296" rx="19" ry="38" transform="rotate(8 752 296)"/><path class="m" d="M722,268 L745,260 M722,322 L750,334"/>
</g>
<text class="s" x="474" y="867.5" font-size="8">C</text><text class="j" x="487" y="867.5" font-size="6.5" textLength="23" lengthAdjust="spacingAndGlyphs">詳 細</text>
<text class="s" x="474" y="878.2" textLength="36.5" lengthAdjust="spacingAndGlyphs">Detail C</text>
<text class="j" x="537.5" y="912" font-size="6.6" textLength="96" lengthAdjust="spacingAndGlyphs">インジェクションポンプから</text>
<text class="s" x="538" y="923.7" textLength="98" lengthAdjust="spacingAndGlyphs" xml:space="preserve">From  Injection  Pump</text>
</svg>
</body></html>
